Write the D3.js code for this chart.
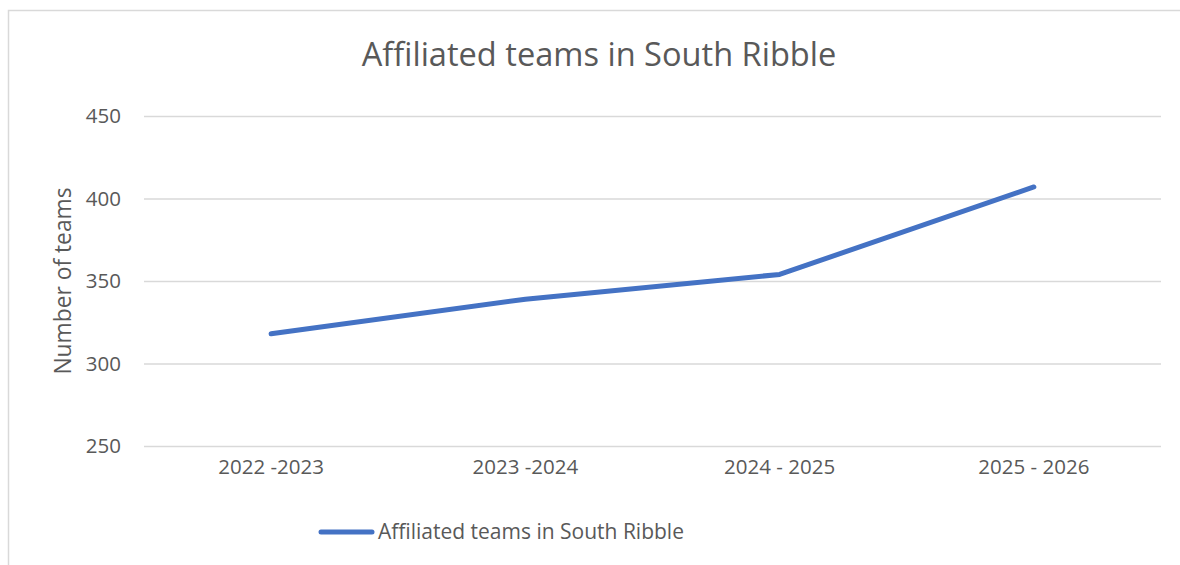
<!DOCTYPE html>
<html>
<head>
<meta charset="utf-8">
<script src="https://cdn.jsdelivr.net/npm/d3@7"></script>
<style>
  html, body { margin: 0; padding: 0; background: #fff; }
  svg { display: block; font-family: "Open Sans", Lato, sans-serif; }
</style>
</head>
<body>
<svg id="chart" width="1180" height="565"></svg>
<script>
// ── Data ───────────────────────────────────────────────────────────────────
const seasons = ['2022 -2023', '2023 -2024', '2024 - 2025', '2025 - 2026'];
const teams   = [318, 339, 354, 407];
const yTicks  = [250, 300, 350, 400, 450];
const seriesName = 'Affiliated teams in South Ribble';

// ── Layout ─────────────────────────────────────────────────────────────────
const svg = d3.select('#chart');
const margin = { left: 144, right: 1161, top: 116, bottom: 446 };
const textColor = '#595959';
const lineColor = '#4472C4';
const font = '"Open Sans", sans-serif';

// chart border
svg.append('rect')
  .attr('x', 8.5).attr('y', 10.5)
  .attr('width', 1190).attr('height', 600)
  .attr('fill', 'none').attr('stroke', '#d9d9d9').attr('stroke-width', 1.5);

const x = d3.scaleBand().domain(seasons).range([margin.left, margin.right]);
const y = d3.scaleLinear().domain([250, 450]).range([margin.bottom, margin.top]);

// ── Gridlines + y axis ─────────────────────────────────────────────────────
const yAxis = svg.append('g')
  .attr('transform', `translate(${margin.left},0)`)
  .call(d3.axisLeft(y).tickValues(yTicks).tickSize(-(margin.right - margin.left)).tickPadding(23));
yAxis.select('.domain').remove();
yAxis.selectAll('.tick line').attr('stroke', '#d9d9d9').attr('stroke-width', 1.3);
yAxis.selectAll('.tick text')
  .attr('fill', textColor).attr('font-size', 20.5).attr('font-family', font);

// ── x axis ─────────────────────────────────────────────────────────────────
const xAxis = svg.append('g')
  .attr('transform', `translate(0,${margin.bottom})`)
  .call(d3.axisBottom(x).tickSize(0).tickPadding(13));
xAxis.select('.domain').remove();
xAxis.selectAll('.tick text')
  .attr('fill', textColor).attr('font-size', 20.5).attr('font-family', font);

// ── Line ───────────────────────────────────────────────────────────────────
const line = d3.line()
  .x((d, i) => x(seasons[i]) + x.bandwidth() / 2)
  .y(d => y(d));

svg.append('path')
  .datum(teams)
  .attr('d', line)
  .attr('fill', 'none')
  .attr('stroke', lineColor)
  .attr('stroke-width', 5)
  .attr('stroke-linecap', 'round')
  .attr('stroke-linejoin', 'round');

// ── Titles ─────────────────────────────────────────────────────────────────
svg.append('text')
  .attr('x', 599).attr('y', 66)
  .attr('text-anchor', 'middle')
  .attr('fill', textColor).attr('font-size', 32.6)
  .text(seriesName);

svg.append('text')
  .attr('transform', `translate(71,281) rotate(-90)`)
  .attr('text-anchor', 'middle')
  .attr('fill', textColor).attr('font-size', 22.8)
  .text('Number of teams');

// ── Legend ─────────────────────────────────────────────────────────────────
svg.append('line')
  .attr('x1', 321).attr('x2', 372).attr('y1', 532).attr('y2', 532)
  .attr('stroke', lineColor).attr('stroke-width', 5).attr('stroke-linecap', 'round');
svg.append('text')
  .attr('x', 378).attr('y', 539)
  .attr('fill', textColor).attr('font-size', 21)
  .text(seriesName);
</script>
</body>
</html>
